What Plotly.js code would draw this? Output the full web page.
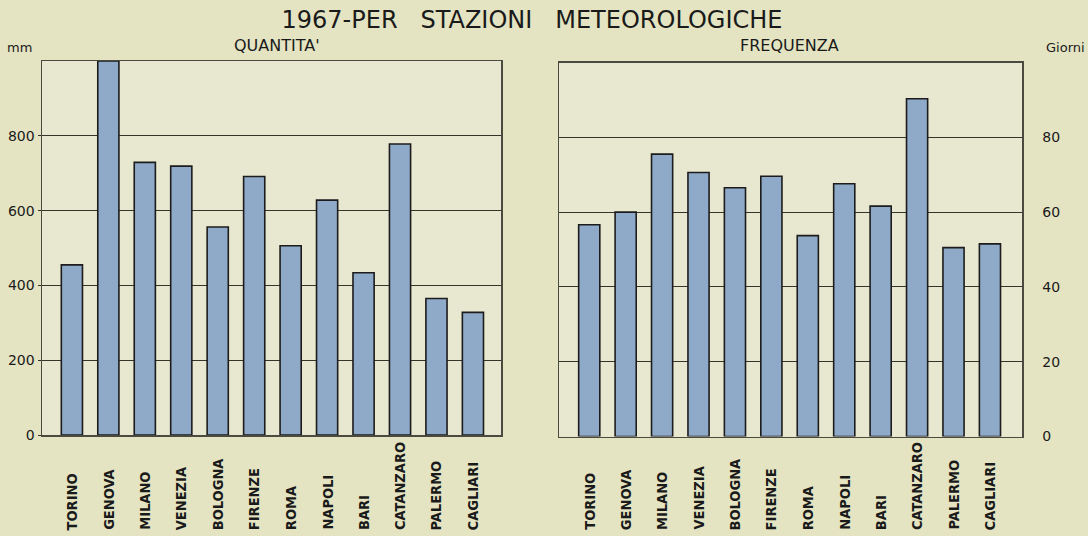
<!DOCTYPE html>
<html>
<head>
<meta charset="utf-8">
<script src="https://cdn.plot.ly/plotly-3.0.1.min.js"></script>
<style>
html,body{margin:0;padding:0;background:#e4e4c2;}
#chart{width:1088px;height:536px;}
</style>
</head>
<body>
<div id="chart"></div>
<script>
const stations = ["TORINO","GENOVA","MILANO","VENEZIA","BOLOGNA","FIRENZE","ROMA","NAPOLI","BARI","CATANZARO","PALERMO","CAGLIARI"];
const quantitaMm = [455, 1000, 729, 719, 556, 691, 506, 628, 434, 778, 365, 328];
const frequenzaGiorni = [56.6, 60, 75.5, 70.6, 66.5, 69.6, 53.7, 67.6, 61.6, 90.3, 50.5, 51.5];
const leftTicks = [0, 200, 400, 600, 800];
const rightTicks = [0, 20, 40, 60, 80];

const W = 1088, H = 536;
const px = v => v / W;
const py = v => 1 - v / H;

const barFill = "#8fa9c8";
const barLine = "#1c1c1c";
const gridCol = "#34342b";
const frameCol = "#4a4a40";
const textCol = "#1a1a1a";

const traces = [
  {type:"bar", x:stations, y:quantitaMm, xaxis:"x", yaxis:"y",
   marker:{color:barFill, line:{color:barLine, width:1.6}}, hoverinfo:"x+y"},
  {type:"bar", x:stations, y:frequenzaGiorni, xaxis:"x2", yaxis:"y2",
   marker:{color:barFill, line:{color:barLine, width:1.6}}, hoverinfo:"x+y"}
];

const labelFont = {family:"DejaVu Sans Condensed", size:14.5, color:textCol, weight:700};
const annotations = [];
stations.forEach(s => {
  annotations.push({xref:"x", yref:"paper", x:s, y:py(532), text:s, showarrow:false,
    textangle:-90, xanchor:"center", yanchor:"bottom", font:labelFont});
  annotations.push({xref:"x2", yref:"paper", x:s, y:py(532), text:s, showarrow:false,
    textangle:-90, xanchor:"center", yanchor:"bottom", font:labelFont});
});
const subFont = {family:"DejaVu Sans", size:16, color:textCol};
annotations.push({xref:"paper", yref:"paper", x:px(277), y:py(45), text:"QUANTITA'", showarrow:false,
  xanchor:"center", yanchor:"middle", font:subFont});
annotations.push({xref:"paper", yref:"paper", x:px(789), y:py(45), text:"FREQUENZA", showarrow:false,
  xanchor:"center", yanchor:"middle", font:subFont});
annotations.push({xref:"paper", yref:"paper", x:px(5), y:py(47), text:"mm", showarrow:false,
  xanchor:"left", yanchor:"middle", font:{family:"DejaVu Sans", size:13, color:textCol}});
annotations.push({xref:"paper", yref:"paper", x:px(1044), y:py(47), text:"Giorni", showarrow:false,
  xanchor:"left", yanchor:"middle", font:{family:"DejaVu Sans", size:13, color:textCol}});

const layout = {
  width:W, height:H,
  paper_bgcolor:"#e4e4c2", plot_bgcolor:"#e8e7cf",
  margin:{l:0, r:0, t:0, b:0},
  showlegend:false,
  bargap:0.42,
  title:{text:"1967-PER   STAZIONI   METEOROLOGICHE", x:px(532), xanchor:"center", y:py(20), yanchor:"middle",
    font:{family:"DejaVu Sans", size:24, color:textCol}},
  xaxis:{domain:[px(42), px(501)], type:"category", range:[-0.82, 11.77],
    showticklabels:false, ticks:"", showgrid:false, zeroline:false,
    showline:true, mirror:true, linecolor:frameCol, linewidth:1.5},
  yaxis:{domain:[py(435), py(61)], range:[0, 1000], tickvals:leftTicks, ticktext:leftTicks.map(String),
    ticks:"outside", ticklen:3, tickcolor:gridCol, tickwidth:1, ticklabelstandoff:0,
    showgrid:true, gridcolor:gridCol, gridwidth:1, zeroline:false,
    showline:true, mirror:true, linecolor:frameCol, linewidth:1.5,
    tickfont:{family:"DejaVu Sans", size:14, color:textCol}},
  xaxis2:{domain:[px(559), px(1022)], type:"category", range:[-0.83, 11.88], anchor:"y2",
    showticklabels:false, ticks:"", showgrid:false, zeroline:false,
    showline:true, mirror:true, linecolor:frameCol, linewidth:1.5},
  yaxis2:{domain:[py(436.5), py(62.5)], range:[0, 100], anchor:"x2", side:"right",
    tickvals:rightTicks, ticktext:rightTicks.map(String),
    ticks:"", ticklabelstandoff:16,
    showgrid:true, gridcolor:gridCol, gridwidth:1, zeroline:false,
    showline:true, mirror:true, linecolor:frameCol, linewidth:1.5,
    tickfont:{family:"DejaVu Sans", size:14, color:textCol}},
  annotations:annotations
};

Plotly.newPlot("chart", traces, layout, {displayModeBar:false, staticPlot:true});
</script>
</body>
</html>
